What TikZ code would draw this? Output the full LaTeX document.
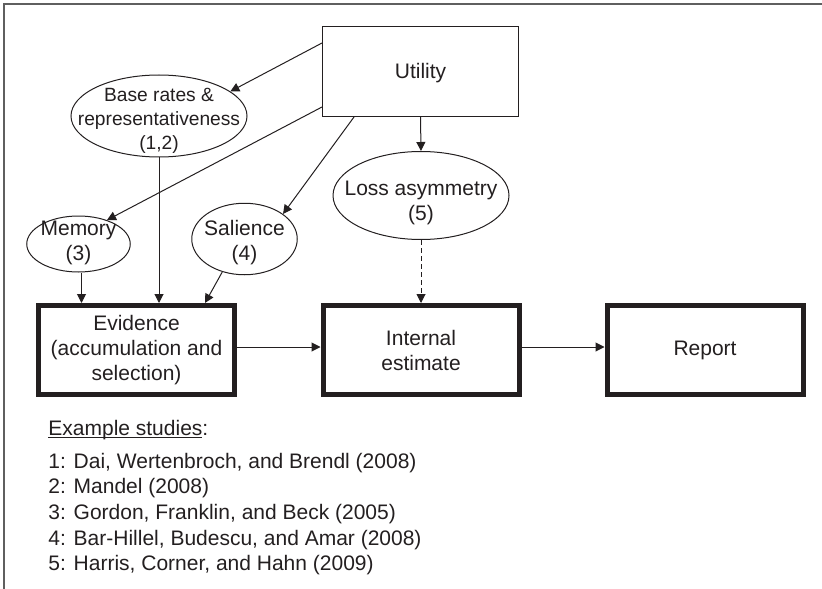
\documentclass[tikz,border=0pt]{standalone}
\usepackage{fontspec}
\setmainfont{Liberation Sans}
\usetikzlibrary{arrows.meta,shapes.geometric}
\definecolor{ink}{RGB}{35,31,32}
\definecolor{framegray}{RGB}{95,95,95}
% underline that sits close to the baseline
\newcommand{\studyul}[1]{\setbox0\hbox{#1}\rlap{\rule[-1.4pt]{\wd0}{0.5pt}}\box0}

\begin{document}
\begin{tikzpicture}[x=0.5pt, y=-0.5pt,
        every node/.style={font=\fontsize{10.5}{12.5}\selectfont, text=ink},
        conn/.style={draw=ink, line width=0.5pt, -{Triangle[length=4.5pt,width=4.5pt]}},
        stage/.style={draw=ink, line width=2.5pt, rectangle, align=center,
            minimum width=98pt, minimum height=44.5pt, inner sep=0pt},
        oval/.style={draw=ink, line width=0.5pt, ellipse, inner sep=0pt},
        ovaltext/.style={align=center, inner sep=0pt},
        studyline/.style={anchor=base west, inner sep=0pt, font=\fontsize{10.5}{12.8}\selectfont}]
        \clip (0,0) rectangle (822,588);
        \draw[framegray, line width=0.7pt] (4,4) rectangle (840,600);

        % top box
        \node[draw=ink, line width=0.5pt, minimum width=98pt, minimum height=45pt, inner sep=0pt] (util) at (420.5,71.5) {};
        \node[ovaltext] (util-t) at (420.5,73.5) {Utility};

        % biases
        \node[oval, minimum width=88pt, minimum height=41pt] (base) at (159,116) {};
        \node[ovaltext, font=\fontsize{9.6}{12}\selectfont] (base-t) at (159,121) {Base rates \&\\representativeness\\(1,2)};
        \node[oval, minimum width=51.75pt, minimum height=28pt] (mem) at (78.5,244) {};
        \node[ovaltext] (mem-t) at (78.5,242.5) {Memory\\(3)};
        \node[oval, minimum width=52.75pt, minimum height=35.75pt] (sal) at (244.5,239) {};
        \node[ovaltext] (sal-t) at (244.5,243) {Salience\\(4)};
        \node[oval, minimum width=88pt, minimum height=44pt] (loss) at (421,195.5) {};
        \node[ovaltext] (loss-t) at (421,203) {Loss asymmetry\\(5)};

        % main chain
        \node[stage] (ev) at (136.5,350) {Evidence\\(accumulation and\\selection)};
        \node[stage] (ie) at (421,350) {Internal\\estimate};
        \node[stage] (rep) at (705,350) {Report};

        \draw[conn] ([yshift=-8.5pt]util.north west) -- (base.19);
        \draw[conn] ([yshift=5pt]util.south west) -- (mem.40);
        \draw[conn] ([xshift=16pt]util.south west) -- (sal.33);
        \draw[conn] (util.south) -- (loss.north);
        \draw[conn] (base.south) -- (base.south |- ev.north);
        \draw[conn] ([xshift=1.5pt]mem.south) -- ([xshift=1.5pt]mem.south |- ev.north);
        \draw[conn] (sal.236) -- ([xshift=-16pt]ev.north east);
        \draw[conn, dash pattern=on 2.5pt off 1.5pt] (loss.south) -- (ie.north);
        \draw[conn] ([yshift=1.5pt]ev.east) -- ([yshift=1.5pt]ie.west);
        \draw[conn] ([yshift=1.5pt]ie.east) -- ([yshift=1.5pt]rep.west);

        % studies
        \node[studyline] (studies) at (48,435) {\studyul{Example studies}:};
        \foreach \studytxt [count=\i] in {{1: Dai, Wertenbroch, and Brendl (2008)},
                {2: Mandel (2008)},
                {3: Gordon, Franklin, and Beck (2005)},
                {4: Bar-Hillel, Budescu, and Amar (2008)},
                {5: Harris, Corner, and Hahn (2009)}}
            \node[studyline] (study\i) at (48,{442.7+25.6*\i}) {\studytxt};
\end{tikzpicture}
\end{document}
